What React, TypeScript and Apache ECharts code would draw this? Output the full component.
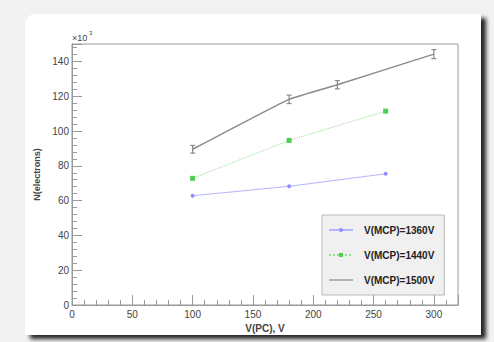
import React, { useEffect, useRef } from "react";
import * as echarts from "echarts";

const vpc1360 = [100, 180, 260];
const n1360 = [62.8, 68.2, 75.4];
const err1360 = [0.6, 0.6, 0.6];

const vpc1440 = [100, 180, 260];
const n1440 = [72.8, 94.6, 111.4];
const err1440 = [0.8, 0.8, 0.8];

const vpc1500 = [100, 180, 220, 300];
const n1500 = [89.5, 118.2, 126.6, 144.2];
const err1500 = [2.2, 2.4, 2.4, 2.6];

const seriesNames = ["V(MCP)=1360V", "V(MCP)=1440V", "V(MCP)=1500V"];
const colors = ["#8f8fff", "#4fcf4f", "#8a8a8a"];

const FONT = "Liberation Sans";

function errorSeries(xs: number[], ys: number[], es: number[], color: string, cap: number) {
  return {
    type: "custom",
    silent: true,
    z: 3,
    data: xs.map((x, i) => [x, ys[i], ys[i] - es[i], ys[i] + es[i]]),
    renderItem: (params: any, api: any) => {
      const x = api.value(0);
      const lo = api.coord([x, api.value(2)]);
      const hi = api.coord([x, api.value(3)]);
      const style = { stroke: color, lineWidth: 1.2 };
      return {
        type: "group",
        children: [
          { type: "line", shape: { x1: lo[0], y1: lo[1], x2: hi[0], y2: hi[1] }, style },
          { type: "line", shape: { x1: lo[0] - cap, y1: lo[1], x2: lo[0] + cap, y2: lo[1] }, style },
          { type: "line", shape: { x1: hi[0] - cap, y1: hi[1], x2: hi[0] + cap, y2: hi[1] }, style },
        ],
      };
    },
  };
}

export default function App() {
  const ref = useRef<HTMLDivElement>(null);
  useEffect(() => {
    const chart = echarts.init(ref.current!, null, { renderer: "svg" });
    const axisLabel = { color: "#444", fontFamily: FONT, fontSize: 10 };
    chart.setOption({
      animation: false,
      backgroundColor: "#f2f2f2",
      graphic: [
        {
          type: "rect",
          z: -10,
          shape: { x: 25, y: 14, width: 456, height: 321, r: [10, 0, 0, 0] },
          style: {
            fill: "#ffffff",
            shadowBlur: 4,
            shadowOffsetX: 5,
            shadowOffsetY: 4,
            shadowColor: "rgba(0,0,0,0.85)",
          },
        },
        {
          type: "text",
          z: 10,
          left: 72,
          top: 33,
          style: { text: "×10", fontSize: 9, fontFamily: FONT, fill: "#444" },
        },
        {
          type: "text",
          z: 10,
          left: 89,
          top: 30,
          style: { text: "3", fontSize: 6, fontFamily: FONT, fill: "#444" },
        },
      ],
      grid: {
        left: 72,
        top: 44,
        right: 36,
        bottom: 37,
        show: true,
        borderColor: "#999",
        borderWidth: 1,
        backgroundColor: "transparent",
      },
      legend: {
        orient: "vertical",
        left: 322,
        top: 215,
        width: 131,
        padding: [8, 10, 8, 6],
        itemGap: 11,
        itemWidth: 24,
        itemHeight: 5,
        symbolKeepAspect: true,
        backgroundColor: "#f0f0f0",
        borderColor: "#bbbbbb",
        borderWidth: 1,
        data: [
          { name: seriesNames[0] },
          { name: seriesNames[1] },
          { name: seriesNames[2], icon: "path://M0,0 L24,0 L24,1.2 L0,1.2 Z" },
        ],
        textStyle: {
          fontFamily: FONT,
          fontSize: 10,
          fontWeight: "bold",
          color: "#222",
          lineHeight: 14,
          padding: [0, 0, 0, 6],
        },
      },
      xAxis: {
        type: "value",
        min: 0,
        max: 320,
        interval: 50,
        name: "V(PC), V",
        nameLocation: "middle",
        nameGap: 13,
        nameTextStyle: { fontFamily: FONT, fontSize: 10, fontWeight: "bold", color: "#444" },
        axisLine: { lineStyle: { color: "#999" } },
        axisTick: { inside: true, length: 10, lineStyle: { color: "#999" } },
        minorTick: { show: true, splitNumber: 5, length: 5, lineStyle: { color: "#999" } },
        splitLine: { show: false },
        axisLabel: { ...axisLabel, margin: 4, showMaxLabel: false },
      },
      yAxis: {
        type: "value",
        min: 0,
        max: 150,
        interval: 20,
        name: "N(electrons)",
        nameLocation: "middle",
        nameGap: 29,
        nameTextStyle: { fontFamily: FONT, fontSize: 9, fontWeight: "bold", color: "#444" },
        axisLine: { show: true, lineStyle: { color: "#999" } },
        axisTick: { show: true, inside: true, length: 10, lineStyle: { color: "#999" } },
        minorTick: { show: true, splitNumber: 5, length: 5, lineStyle: { color: "#999" } },
        splitLine: { show: false },
        axisLabel: { ...axisLabel, margin: 3, showMaxLabel: false },
      },
      series: [
        {
          name: seriesNames[0],
          type: "line",
          data: vpc1360.map((x, i) => [x, n1360[i]]),
          symbol: "circle",
          symbolSize: 4,
          itemStyle: { color: colors[0] },
          lineStyle: { color: "#b5b5ff", width: 1 },
        },
        {
          name: seriesNames[1],
          type: "line",
          data: vpc1440.map((x, i) => [x, n1440[i]]),
          symbol: "rect",
          symbolSize: 5,
          itemStyle: { color: colors[1] },
          lineStyle: { color: "#8fe08f", width: 1, type: "dotted" },
        },
        {
          name: seriesNames[2],
          type: "line",
          data: vpc1500.map((x, i) => [x, n1500[i]]),
          symbol: "none",
          smooth: 0.12,
          itemStyle: { color: colors[2] },
          lineStyle: { color: colors[2], width: 1.5 },
        },
        errorSeries(vpc1360, n1360, err1360, colors[0], 0),
        errorSeries(vpc1440, n1440, err1440, colors[1], 0),
        errorSeries(vpc1500, n1500, err1500, colors[2], 2.5),
      ],
    });
    return () => chart.dispose();
  }, []);
  return (
    <div style={{ position: "absolute", left: 0, top: 0, width: 494, height: 342 }}>
      <div ref={ref} style={{ width: 494, height: 342 }} />
    </div>
  );
}
